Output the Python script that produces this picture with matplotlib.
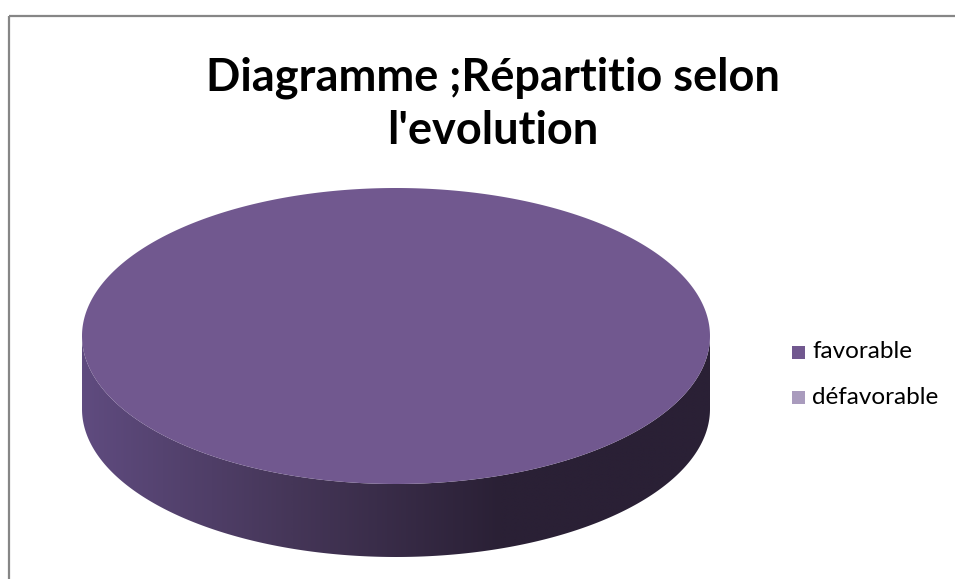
import numpy as np
import matplotlib
matplotlib.use("Agg")
import matplotlib.pyplot as plt
from matplotlib.patches import Polygon, Rectangle
from matplotlib.colors import LinearSegmentedColormap

# ---- data ----
categories = ["favorable", "défavorable"]
values = [100, 0]
colors = ["#71588f", "#a99bbd"]
side_dark = ["#2a2035", "#4f4560"]
side_light = ["#5f4b7f", "#9d8fb2"]
title = "Diagramme ;Répartitio selon\nl'evolution"

W, H = 955, 579
fig = plt.figure(figsize=(W / 100, H / 100), dpi=100)
ax = fig.add_axes([0, 0, 1, 1])
ax.set_xlim(0, W)
ax.set_ylim(H, 0)
ax.axis("off")

# chart frame
ax.add_patch(Rectangle((8.5, 15.5), W + 20, H + 20, fill=False,
                       edgecolor="#868686", linewidth=1.6))

# pie geometry (pixels)
cx, cy, a, b, depth = 396, 336, 314, 148, 73

total = float(sum(values))
start = -np.pi / 2  # top, clockwise on screen
for i, v in enumerate(values):
    frac = v / total
    if frac <= 0:
        continue
    t0, t1 = start, start + frac * 2 * np.pi
    start = t1
    t = np.linspace(t0, t1, 400)
    segs = []
    for k in range(-1, 2):
        l2, h2 = max(t0, 2 * np.pi * k), min(t1, np.pi + 2 * np.pi * k)
        if h2 > l2:
            segs.append((l2, h2))
    for l2, h2 in segs:
        ts = np.linspace(l2, h2, 300)
        xs = cx + a * np.cos(ts)
        ys = cy + b * np.sin(ts)
        pts = np.vstack([np.column_stack([xs, ys]),
                         np.column_stack([xs[::-1], ys[::-1] + depth])])
        poly = Polygon(pts, closed=True, facecolor="none", edgecolor="none")
        ax.add_patch(poly)
        cmap = LinearSegmentedColormap.from_list(
            "side", [side_light[i], "#453658", side_dark[i], side_dark[i]])
        grad = np.linspace(0, 1, 512).reshape(1, -1)
        im = ax.imshow(grad, cmap=cmap, aspect="auto",
                       extent=(cx - a, cx + a, cy + b + depth, cy - 2),
                       zorder=1, interpolation="bilinear")
        im.set_clip_path(poly)
    xt = cx + a * np.cos(t)
    yt = cy + b * np.sin(t)
    if frac < 1:
        xt = np.concatenate([[cx], xt])
        yt = np.concatenate([[cy], yt])
    ax.add_patch(Polygon(np.column_stack([xt, yt]), closed=True,
                         facecolor=colors[i], edgecolor="none", zorder=2))

# title
ax.text(493, 104, title, ha="center", va="center", fontsize=32.5,
        fontweight="bold", family=["Lato", "DejaVu Sans"], color="black",
        linespacing=1.32)

# legend
for i, (lab, col) in enumerate(zip(categories, colors)):
    y = 352 + i * 45
    ax.add_patch(Rectangle((792, y - 6.5), 13, 13, facecolor=col,
                           edgecolor="none"))
    ax.text(812, y, lab, ha="left", va="center", fontsize=17.5,
            family=["Lato", "DejaVu Sans"], color="black")

fig.savefig("out.png", dpi=100)
